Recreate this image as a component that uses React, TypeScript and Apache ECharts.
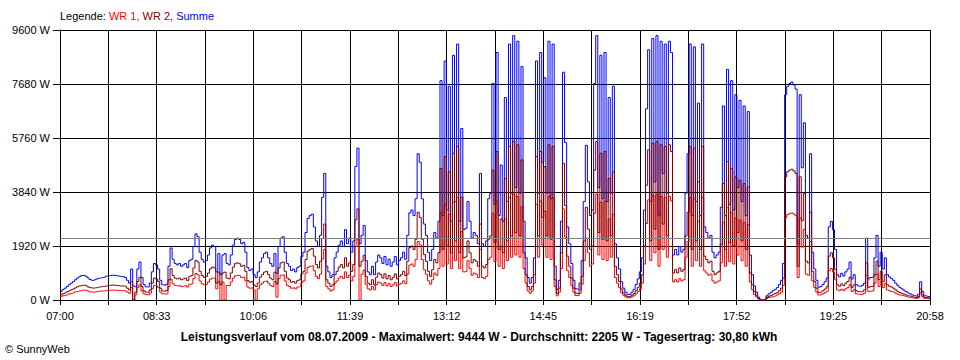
import React, { useEffect, useRef } from 'react';
import * as echarts from 'echarts';

// Sampling step of the recorded series, in minutes after 07:00
const STEP_MIN = 2;
const X_MAX_MIN = 838; // 07:00 -> 20:58

const tickLabels = ['07:00', '08:33', '10:06', '11:39', '13:12', '14:45', '16:19', '17:52', '19:25', '20:58'];
const averageW = 2205;

// Summe (W)
const summe = [
  300, 370, 420, 480, 540, 600, 650, 720, 780, 830,
  870, 880, 850, 790, 730, 700, 710, 740, 770, 790,
  800, 820, 850, 870, 880, 880, 870, 860, 840, 830,
  830, 800, 700, 600, 1100, 500, 470, 1100, 1350, 800,
  550, 470, 460, 600, 1000, 1300, 1250, 1100, 700, 540,
  520, 560, 1200, 1850, 1450, 1300, 1250, 1300, 1200, 1250,
  1300, 1150, 1400, 1450, 1900, 2350, 2250, 1700, 1450, 1350,
  1400, 1600, 1850, 1950, 1900, 1000, 1650, 900, 1600, 1650,
  1300, 1250, 1600, 1950, 2150, 2200, 2150, 2000, 2050, 1700,
  1150, 1050, 1100, 900, 800, 1000, 1350, 1500, 1650, 1700,
  1500, 1300, 1200, 1650, 950, 1900, 2200, 2250, 1700, 1300,
  1200, 1050, 1100, 1000, 1150, 1200, 1550, 1700, 2400, 2900,
  3000, 3050, 2600, 2100, 1900, 2300, 3650, 4500, 1200, 1000,
  800, 900, 1500, 1700, 1950, 2100, 1900, 2500, 2000, 2200,
  1700, 2100, 4750, 5400, 2000, 2300, 2650, 1400, 1000, 900,
  1200, 900, 1350, 1600, 1500, 1300, 1550, 1250, 1450, 1200,
  1350, 1550, 1250, 1400, 1500, 1700, 1450, 2300, 3100, 3200,
  3000, 3600, 5200, 4900, 3600, 2700, 2300, 1700, 1400, 1800,
  2400, 2200, 2800, 7800, 3000, 8500, 3200, 7600, 2800, 8700,
  3500, 9100, 2800, 6100, 2500, 2550, 3500, 2800, 2200, 2400,
  2300, 2000, 4500, 2000, 1900, 2100, 3600, 3800, 7700, 3400,
  8800, 3000, 4800, 2800, 7200, 3500, 9100, 3800, 9400, 4000,
  9200, 3800, 8300, 2800, 1500, 800, 600, 800, 1500, 8500,
  3800, 8800, 4900, 7900, 3800, 9200, 3600, 9100, 1200, 380,
  700, 2800, 8100, 5600, 2600, 2000, 1300, 700, 400, 380,
  600, 1400, 3500, 5500, 4200, 3000, 3200, 7700, 9400, 4000,
  8700, 3600, 8800, 3500, 7200, 3800, 7600, 2000, 1500, 1100,
  650, 420, 280, 200, 200, 280, 380, 550, 750, 1000,
  1500, 3200, 6800, 8900, 3500, 9300, 4200, 9400, 3000, 9200,
  4500, 9100, 3800, 9200, 8800, 1600, 1800, 1600, 1900, 1700,
  1800, 3800, 5200, 9100, 3000, 9000, 3500, 7000, 3000, 9100,
  2600, 2400, 2200, 2300, 1700, 1500, 1600, 1700, 3300, 6900,
  3000, 8200, 3400, 7800, 3200, 7300, 4000, 7100, 3500, 6900,
  3000, 6700, 1600, 900, 500, 280, 100, 0, 0, 0,
  150, 220, 270, 330, 380, 440, 550, 700, 1300, 7300,
  7600, 7700, 7750, 7650, 7500, 2000, 7300, 4700, 6300, 2300,
  2200, 5200, 1700, 1100, 700, 450, 480, 550, 650, 780,
  2600, 2800, 2500, 1800, 900, 820, 950, 850, 1000, 1100,
  1350, 750, 900, 550, 500, 480, 520, 600, 2200, 750,
  800, 820, 1500, 2300, 1200, 1700, 1100, 1500, 900, 820,
  760, 700, 600, 520, 450, 400, 350, 300, 250, 220,
  180, 150, 130, 200, 650, 300, 150, 130, 110, 80,
];

// WR 2 (W)
const wr2 = [
  180, 220, 250, 290, 320, 360, 390, 430, 470, 500,
  520, 530, 510, 470, 440, 420, 430, 440, 460, 470,
  480, 490, 510, 520, 530, 530, 520, 520, 500, 500,
  500, 480, 420, 360, 660, 0, 280, 660, 810, 480,
  330, 280, 280, 360, 600, 780, 750, 660, 420, 320,
  310, 340, 720, 1110, 870, 780, 750, 780, 720, 750,
  780, 690, 840, 870, 1140, 1410, 1350, 1020, 870, 810,
  840, 960, 1110, 1170, 1140, 600, 990, 540, 960, 990,
  780, 750, 960, 1170, 1290, 1320, 1290, 1200, 1230, 1020,
  690, 630, 660, 540, 480, 600, 810, 900, 990, 1020,
  900, 780, 720, 990, 570, 1140, 1320, 1350, 1020, 780,
  720, 630, 660, 600, 690, 720, 930, 1020, 1440, 1740,
  1800, 1830, 1560, 1260, 1140, 1380, 2190, 2700, 720, 600,
  480, 540, 900, 1020, 1170, 1260, 1140, 1500, 1200, 1320,
  1020, 1260, 2850, 3240, 1200, 1380, 1590, 840, 600, 540,
  720, 540, 810, 960, 900, 780, 930, 750, 870, 720,
  810, 930, 750, 840, 900, 1020, 870, 1380, 1860, 1920,
  1800, 2160, 3120, 2940, 2160, 1620, 1380, 1020, 840, 1080,
  1440, 1320, 1680, 4680, 1800, 5100, 1920, 4560, 1680, 5220,
  2100, 5460, 1680, 3660, 1500, 1530, 2100, 1680, 1320, 1440,
  1380, 1200, 2700, 1200, 1140, 1260, 2160, 2280, 4620, 2040,
  5280, 1800, 2880, 1680, 4320, 2100, 5460, 2280, 5640, 2400,
  5520, 2280, 4980, 1680, 900, 480, 360, 480, 900, 5100,
  2280, 5280, 2940, 4740, 2280, 5520, 2160, 5460, 720, 230,
  420, 1680, 4860, 3360, 1560, 1200, 780, 420, 240, 230,
  360, 840, 2100, 3300, 2520, 1800, 1920, 4620, 5640, 2400,
  5220, 2160, 5280, 2100, 4320, 2280, 4560, 1200, 900, 660,
  390, 250, 170, 120, 120, 170, 230, 330, 450, 600,
  900, 1920, 4080, 5340, 2100, 5580, 2520, 5640, 1800, 5520,
  2700, 5460, 2280, 5520, 5280, 960, 1080, 960, 1140, 1020,
  1080, 2280, 3120, 5460, 1800, 5400, 2100, 4200, 1800, 5460,
  1560, 1440, 1320, 1380, 1020, 900, 960, 1020, 1980, 4140,
  1800, 4920, 2040, 4680, 1920, 4380, 2400, 4260, 2100, 4140,
  1800, 4020, 960, 540, 300, 170, 60, 0, 0, 0,
  90, 130, 160, 200, 230, 260, 330, 420, 780, 4380,
  4560, 4620, 4650, 4590, 4500, 1200, 4380, 2820, 3780, 1380,
  1320, 3120, 1020, 660, 420, 270, 290, 330, 390, 470,
  1560, 1680, 1500, 1080, 540, 490, 570, 510, 600, 660,
  810, 450, 540, 330, 300, 290, 310, 360, 1320, 450,
  480, 490, 900, 1380, 720, 1020, 660, 900, 540, 490,
  460, 420, 360, 310, 270, 240, 210, 180, 150, 130,
  110, 90, 80, 120, 390, 180, 90, 80, 70, 50,
];

// WR 1 (W)
const wr1 = [
  120, 150, 170, 190, 220, 240, 260, 290, 310, 330,
  350, 350, 340, 320, 290, 280, 280, 300, 310, 320,
  320, 330, 340, 350, 350, 350, 350, 340, 340, 330,
  330, 320, 280, 240, 440, 0, 190, 440, 540, 320,
  220, 190, 180, 240, 400, 520, 500, 440, 280, 220,
  210, 220, 480, 740, 580, 520, 500, 520, 480, 500,
  520, 460, 560, 580, 760, 940, 900, 680, 580, 540,
  560, 640, 740, 780, 760, 400, 660, 0, 640, 0,
  520, 500, 640, 780, 860, 880, 860, 800, 820, 680,
  460, 420, 440, 360, 0, 400, 540, 600, 660, 680,
  600, 520, 480, 660, 100, 760, 880, 900, 680, 520,
  480, 420, 440, 400, 460, 480, 620, 680, 960, 1160,
  1200, 1220, 1040, 840, 760, 920, 1460, 1800, 480, 400,
  320, 360, 600, 680, 780, 840, 760, 1000, 800, 880,
  680, 840, 1900, 2160, 0, 920, 1060, 560, 400, 360,
  480, 360, 540, 640, 600, 520, 620, 500, 580, 480,
  540, 620, 500, 560, 600, 680, 580, 920, 1240, 1280,
  1200, 1440, 2080, 1960, 1440, 1080, 920, 680, 560, 720,
  960, 880, 1120, 3120, 1200, 3400, 1280, 3040, 1120, 3480,
  1400, 3640, 1120, 2440, 1000, 1020, 1400, 1120, 880, 960,
  920, 800, 1800, 800, 760, 840, 1440, 1520, 3080, 1360,
  3520, 1200, 1920, 1120, 2880, 1400, 3640, 1520, 3760, 1600,
  3680, 1520, 3320, 1120, 600, 320, 240, 320, 600, 3400,
  1520, 3520, 1960, 3160, 1520, 3680, 1440, 3640, 480, 150,
  280, 1120, 3240, 2240, 1040, 800, 520, 280, 160, 150,
  240, 560, 1400, 2200, 1680, 1200, 1280, 3080, 3760, 1600,
  3480, 1440, 3520, 1400, 2880, 1520, 3040, 800, 600, 440,
  260, 170, 110, 80, 80, 110, 150, 220, 300, 400,
  600, 1280, 2720, 3560, 1400, 3720, 1680, 3760, 1200, 3680,
  1800, 3640, 1520, 3680, 3520, 640, 720, 640, 760, 680,
  720, 1520, 2080, 3640, 1200, 3600, 1400, 2800, 1200, 3640,
  1040, 960, 880, 920, 680, 600, 640, 680, 1320, 2760,
  1200, 3280, 1360, 3120, 1280, 2920, 1600, 2840, 1400, 2760,
  1200, 2680, 640, 360, 200, 110, 40, 0, 0, 0,
  60, 90, 110, 130, 150, 180, 220, 280, 520, 2920,
  3040, 3080, 3100, 3060, 3000, 800, 2920, 1880, 2520, 920,
  880, 2080, 680, 440, 280, 180, 190, 220, 260, 310,
  1040, 1120, 1000, 720, 360, 330, 380, 340, 400, 440,
  540, 300, 360, 220, 200, 190, 210, 240, 880, 300,
  320, 330, 600, 920, 480, 680, 440, 600, 360, 330,
  300, 280, 240, 210, 180, 160, 140, 120, 100, 90,
  70, 60, 50, 80, 260, 120, 60, 50, 40, 30,
];

const FONT = '"Liberation Sans", Arial, Helvetica, sans-serif';
const X_STEP = X_MAX_MIN / 18;

function toPairs(arr: number[]) {
  return arr.map((v, i) => [i * STEP_MIN, v]);
}

function lineSeries(name: string, data: number[], color: string, z: number) {
  return {
    type: 'line',
    name,
    data: toPairs(data),
    step: 'end',
    showSymbol: false,
    symbol: 'none',
    silent: true,
    z,
    lineStyle: { color, width: 1 },
    itemStyle: { color },
    emphasis: { disabled: true },
  };
}

export default function App() {
  const ref = useRef<HTMLDivElement>(null);

  useEffect(() => {
    document.body.style.margin = '0';
    const chart = echarts.init(ref.current as HTMLDivElement, null, { renderer: 'svg' });
    const option: any = {
      animation: false,
      backgroundColor: '#ffffff',
      textStyle: { fontFamily: FONT },
      grid: { left: 60, right: 30, top: 30, bottom: 60 },
      xAxis: {
        type: 'value',
        min: 0,
        max: X_MAX_MIN,
        interval: X_STEP,
        axisLine: { show: true, onZero: false, lineStyle: { color: '#000', width: 1 } },
        axisTick: { show: true, length: 5, lineStyle: { color: '#000', width: 1 } },
        axisLabel: {
          color: '#000',
          fontSize: 11,
          fontFamily: FONT,
          margin: 10,
          showMinLabel: true,
          showMaxLabel: true,
          hideOverlap: false,
          formatter: (v: number) => {
            const k = Math.round(v / X_STEP);
            return k % 2 === 0 ? tickLabels[k / 2] ?? '' : '';
          },
        },
        splitLine: { show: true, lineStyle: { color: '#000', width: 1 } },
      },
      yAxis: {
        type: 'value',
        min: 0,
        max: 9600,
        interval: 1920,
        axisLine: { show: true, lineStyle: { color: '#000', width: 1 } },
        axisTick: { show: true, length: 7, lineStyle: { color: '#000', width: 1 } },
        axisLabel: {
          color: '#000',
          fontSize: 11,
          fontFamily: FONT,
          margin: 10,
          formatter: (v: number) => `${v} W`,
        },
        splitLine: { show: true, lineStyle: { color: '#000', width: 1 } },
      },
      series: [
        lineSeries('Summe', summe, '#0000ff', 2),
        lineSeries('WR 1', wr1, '#ff0000', 3),
        {
          ...lineSeries('WR 2', wr2, '#800000', 4),
          markLine: {
            silent: true,
            symbol: ['none', 'none'],
            label: { show: false },
            lineStyle: { color: '#808080', type: 'solid', width: 1 },
            emphasis: { disabled: true },
            data: [{ yAxis: averageW }],
          },
        },
      ],
      graphic: [
        {
          type: 'text',
          x: 60,
          y: 16,
          style: {
            text: '{k|Legende: }{a|WR 1, }{b|WR 2, }{c|Summe}',
            fontFamily: FONT,
            fontSize: 11,
            verticalAlign: 'middle',
            align: 'left',
            rich: {
              k: { fill: '#000000', fontSize: 11, fontFamily: FONT },
              a: { fill: '#ff0000', fontSize: 11, fontFamily: FONT },
              b: { fill: '#800000', fontSize: 11, fontFamily: FONT },
              c: { fill: '#0000ff', fontSize: 11, fontFamily: FONT },
            },
          },
        },
        {
          type: 'text',
          x: 479,
          y: 337,
          style: {
            text: 'Leistungsverlauf vom 08.07.2009 - Maximalwert: 9444 W - Durchschnitt: 2205 W - Tagesertrag: 30,80 kWh',
            fontFamily: FONT,
            fontSize: 12,
            fontWeight: 'bold',
            fill: '#000',
            align: 'center',
            verticalAlign: 'middle',
          },
        },
        {
          type: 'text',
          x: 5,
          y: 349,
          style: {
            text: '© SunnyWeb',
            fontFamily: FONT,
            fontSize: 11,
            fill: '#000',
            align: 'left',
            verticalAlign: 'middle',
          },
        },
      ],
    };
    chart.setOption(option);
    return () => chart.dispose();
  }, []);

  return (
    <div
      ref={ref}
      style={{ position: 'absolute', left: 0, top: 0, width: 960, height: 360, background: '#fff' }}
    />
  );
}
